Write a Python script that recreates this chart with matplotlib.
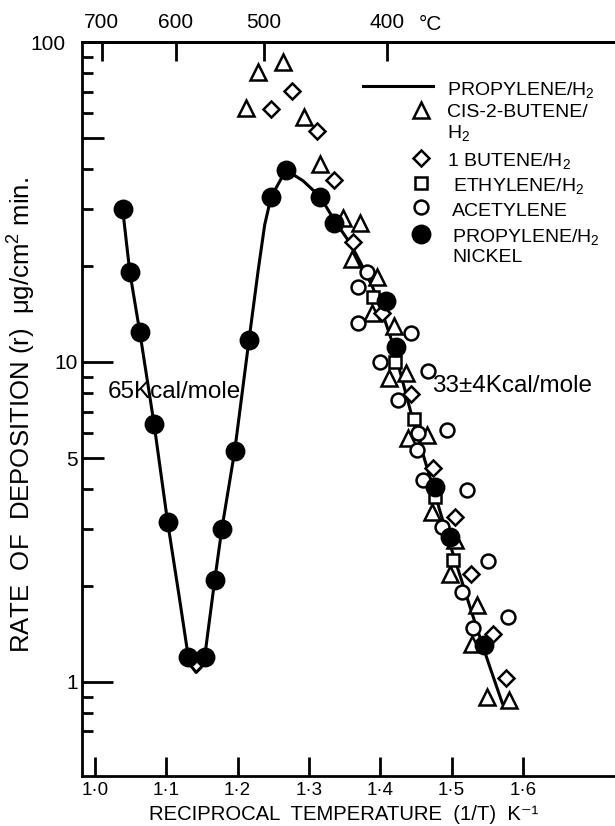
import numpy as np
import matplotlib.pyplot as plt

plt.rcParams['font.family'] = ['Liberation Sans', 'DejaVu Sans']
plt.rcParams['mathtext.fontset'] = 'custom'
plt.rcParams['mathtext.rm'] = 'Liberation Sans'
plt.rcParams['mathtext.it'] = 'Liberation Sans'

# reciprocal temperature (1000/T, K^-1) and rate (ug/cm2 min)
nickel_x = [1.039, 1.049, 1.063, 1.083, 1.102, 1.130, 1.154, 1.168, 1.178, 1.196,
            1.216, 1.247, 1.268, 1.316, 1.335, 1.408, 1.422, 1.477, 1.498, 1.546]
nickel_y = [30.0, 19.1, 12.4, 6.40, 3.16, 1.20, 1.20, 2.08, 3.01, 5.27,
            11.7, 32.8, 39.8, 32.8, 27.2, 15.5, 11.1, 4.07, 2.84, 1.30]

butene2_x = [1.212, 1.229, 1.264, 1.293, 1.316, 1.348, 1.372, 1.360, 1.396, 1.388, 1.419,
             1.412, 1.436, 1.439, 1.466, 1.473, 1.505, 1.498, 1.536, 1.529, 1.550, 1.581]
butene2_y = [62.2, 80.6, 86.6, 58.3, 41.6, 28.2, 27.2, 21.0, 18.4, 14.2, 12.96,
             8.91, 9.24, 5.79, 5.91, 3.40, 2.78, 2.18, 1.74, 1.31, 0.898, 0.879]

butene1_x = [1.276, 1.247, 1.311, 1.335, 1.362, 1.403, 1.443, 1.474, 1.505, 1.527, 1.558, 1.576]
butene1_y = [70.3, 61.8, 52.7, 37.0, 23.7, 14.2, 7.94, 4.66, 3.28, 2.18, 1.41, 1.03]

ethylene_x = [1.390, 1.421, 1.447, 1.477, 1.502]
ethylene_y = [15.97, 10.0, 6.63, 3.79, 2.40]

acetylene_x = [1.381, 1.369, 1.369, 1.443, 1.400, 1.467, 1.425, 1.453, 1.494,
               1.452, 1.460, 1.522, 1.487, 1.551, 1.515, 1.579, 1.530]
acetylene_y = [19.1, 17.1, 13.2, 12.3, 10.0, 9.37, 7.61, 6.00, 6.13,
               5.31, 4.28, 3.98, 3.05, 2.39, 1.91, 1.60, 1.47]

# hand drawn propylene/H2 curve
curve_x = [1.039, 1.049, 1.063, 1.083, 1.102, 1.119, 1.129, 1.135, 1.142, 1.149, 1.154,
           1.168, 1.178, 1.196, 1.216, 1.229, 1.238, 1.247, 1.268, 1.292, 1.316,
           1.337, 1.358, 1.374, 1.390, 1.404, 1.417, 1.429, 1.442, 1.456, 1.470,
           1.484, 1.498, 1.513, 1.527, 1.541, 1.555, 1.571]
curve_y = [30.0, 19.1, 12.4, 6.40, 3.16, 1.80, 1.28, 1.12, 1.07, 1.11, 1.20,
           2.08, 3.01, 5.27, 11.7, 19.4, 26.8, 32.8, 39.8, 36.8, 32.8,
           27.4, 23.5, 20.1, 17.0, 14.0, 11.5, 9.10, 7.08, 5.50, 4.34,
           3.40, 2.68, 2.11, 1.68, 1.35, 1.09, 0.859]

x_ticks = [1.0, 1.1, 1.2, 1.3, 1.4, 1.5, 1.6]
x_labels = ['1·0', '1·1', '1·2', '1·3', '1·4', '1·5', '1·6']
top_ticks = [1.0094, 1.1132, 1.2367, 1.4095]
top_labels = ['700', '600', '500', '400']
y_ticks = [1, 5, 10, 50, 100]
y_labels = ['1', '5', '10', '', '100']
y_minor = [0.7, 0.8, 0.9, 2, 3, 4, 6, 7, 8, 9, 20, 30, 40, 60, 70, 80, 90]

fig = plt.figure(figsize=(6.15, 8.26), dpi=100)
ax = fig.add_axes([82 / 615, 1 - 776 / 826, 533 / 615, 734 / 826])

ax.plot(curve_x, curve_y, color='k', lw=2.2, zorder=2)
ms = dict(mec='k', mew=1.8, ls='none', zorder=3)
ax.plot(butene2_x, butene2_y, marker='^', ms=11, mfc='white', **ms)
ax.plot(butene1_x, butene1_y, marker='D', ms=8, mfc='white', **ms)
ax.plot(ethylene_x, ethylene_y, marker='s', ms=8, mfc='white', **ms)
ax.plot(acetylene_x, acetylene_y, marker='o', ms=10, mfc='white', **ms)
ax.plot(nickel_x, nickel_y, marker='o', ms=12.5, mfc='k', **ms)

ax.set_yscale('log')
ax.set_xlim(0.982, 1.729)
ax.set_ylim(0.508, 100)

ax.set_xticks(x_ticks)
ax.set_xticklabels(x_labels)
ax.set_yticks(y_ticks)
ax.set_yticklabels(y_labels)
ax.set_yticks(y_minor, minor=True)
ax.set_yticklabels([], minor=True)
ax.tick_params(axis='x', which='both', direction='in', length=14, width=2, pad=4, labelsize=13.5)
ax.tick_params(axis='y', which='major', direction='in', length=22, width=2, pad=3, labelsize=15)
ax.tick_params(axis='y', which='minor', direction='in', length=8, width=2)
for sp in ['left', 'top', 'bottom']:
    ax.spines[sp].set_linewidth(2)
ax.spines['right'].set_visible(False)

ax2 = ax.twiny()
ax2.set_xlim(ax.get_xlim())
ax2.set_xticks(top_ticks)
ax2.set_xticklabels(top_labels)
ax2.tick_params(axis='x', direction='in', length=14, width=2, pad=7, labelsize=15)
for sp in ['left', 'right', 'bottom']:
    ax2.spines[sp].set_visible(False)
ax2.spines['top'].set_linewidth(2)
fig.text(430 / 615, 1 - 25 / 826, '°C', fontsize=15, ha='center', va='center')

fig.text(344 / 615, 1 - 820.5 / 826, 'RECIPROCAL  TEMPERATURE  (1/T)  K⁻¹',
         fontsize=14.6, ha='center', va='baseline')
ax.set_ylabel('RATE  OF  DEPOSITION (r)  μg/cm$^{2}$ min.', fontsize=18.5)
ax.yaxis.set_label_coords(-0.0826, 0.492)

ax.text(0.1726, 0.523, '65Kcal/mole', transform=ax.transAxes, fontsize=17.5,
        ha='center', va='center')
ax.text(0.8068, 0.531, '33±4Kcal/mole', transform=ax.transAxes, fontsize=17.5,
        ha='center', va='center')

# legend drawn by hand to follow the original layout
def fxy(px, py):
    return px / 615, 1 - py / 826

lx0, ly = fxy(363, 86)
lx1, _ = fxy(433, 86)
ax.plot([lx0, lx1], [ly, ly], color='k', lw=2.2, transform=fig.transFigure, clip_on=False)
leg_marks = [('^', 11, 'white', 110), ('D', 8, 'white', 158), ('s', 8, 'white', 183),
             ('o', 10, 'white', 207), ('o', 12.5, 'k', 234)]
for m, s, fc, py in leg_marks:
    mx, my = fxy(421, py)
    ax.plot([mx], [my], marker=m, ms=s, mfc=fc, transform=fig.transFigure, clip_on=False, **ms)
leg_text = [(447, 95, 'PROPYLENE/H$_2$'), (447, 117, 'CIS-2-BUTENE/'), (447, 138, 'H$_2$'),
            (447, 166, '1 BUTENE/H$_2$'), (453, 191, 'ETHYLENE/H$_2$'),
            (452, 216, 'ACETYLENE'), (452, 242, 'PROPYLENE/H$_2$'), (452, 262, 'NICKEL')]
for px, py, t in leg_text:
    tx, ty = fxy(px, py)
    fig.text(tx, ty, t, fontsize=14, ha='left', va='baseline')

# tick lengths differ between the decade ticks and the 5 / 50 ticks
for t, v in zip(ax.yaxis.get_major_ticks(), y_ticks):
    if v in (1, 10):
        t.tick1line.set_markersize(22)
    elif v == 100:
        t.tick1line.set_markersize(0)
        t.set_pad(12)
    else:
        t.tick1line.set_markersize(16)

fig.savefig('out.png', dpi=100)
